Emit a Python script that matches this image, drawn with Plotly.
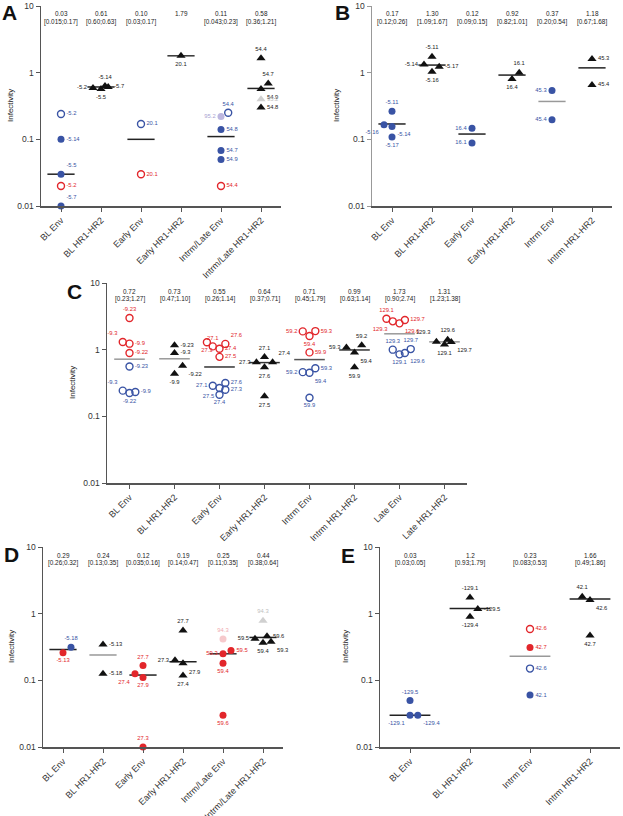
import plotly.graph_objects as go

# ---------------- DATA ----------------
A_categories = ["BL Env", "BL HR1-HR2", "Early Env", "Early HR1-HR2", "Intrm/Late Env", "Intrm/Late HR1-HR2"]
A_median = [0.03, 0.61, 0.10, 1.79, 0.11, 0.58]
A_median_text = ["0.03", "0.61", "0.10", "1.79", "0.11", "0.58"]
A_ci_text = ["[0.015;0.17]", "[0.60;0.63]", "[0.03;0.17]", "", "[0.043;0.23]", "[0.36;1.21]"]
A_cat = [0, 0, 0, 0, 0, 1, 1, 1, 1, 2, 2, 3, 4, 4, 4, 4, 4, 4, 5, 5, 5, 5, 5]
A_value = [0.24, 0.10, 0.03, 0.02, 0.01, 0.59, 0.57, 0.63, 0.61, 0.17, 0.03, 1.79,
           0.25, 0.22, 0.14, 0.068, 0.05, 0.02, 1.64, 0.69, 0.57, 0.40, 0.30]
A_label = ["-5.2", "-5.14", "-5.5", "-5.2", "-5.7", "-5.2", "-5.5", "-5.14", "-5.7", "20.1", "20.1", "20.1",
           "54.4", "95.2", "54.8", "54.7", "54.9", "54.4", "54.4", "54.7", "54.9", "95.2", "54.8"]
A_series = ["bo", "bf", "bf", "ro", "bf", "tri", "tri", "tri", "tri", "bo", "ro", "tri",
            "bo", "pf", "bf", "bf", "bf", "ro", "tri", "tri", "tri", "trig", "tri"]

B_categories = ["BL Env", "BL HR1-HR2", "Early Env", "Early HR1-HR2", "Intrm Env", "Intrm HR1-HR2"]
B_median = [0.17, 1.30, 0.12, 0.92, 0.37, 1.18]
B_median_text = ["0.17", "1.30", "0.12", "0.92", "0.37", "1.18"]
B_ci_text = ["[0.12;0.26]", "[1.09;1.67]", "[0.09;0.15]", "[0.82;1.01]", "[0.20;0.54]", "[0.67;1.68]"]
B_cat = [0, 0, 0, 0, 1, 1, 1, 1, 2, 2, 3, 3, 4, 4, 5, 5]
B_value = [0.264, 0.166, 0.156, 0.108, 1.73, 1.33, 1.23, 1.03, 0.147, 0.088, 0.805, 1.0, 0.54, 0.197, 1.6, 0.655]
B_label = ["-5.11", "-5.16", "-5.14", "-5.17", "-5.11", "-5.14", "-5.17", "-5.16", "16.4", "16.1",
           "16.4", "16.1", "45.3", "45.4", "45.3", "45.4"]
B_series = ["bf", "bf", "bf", "bf", "tri", "tri", "tri", "tri", "bf", "bf", "tri", "tri", "bf", "bf", "tri", "tri"]

C_categories = ["BL Env", "BL HR1-HR2", "Early Env", "Early HR1-HR2", "Intrm Env", "Intrm HR1-HR2",
                "Late Env", "Late HR1-HR2"]
C_median = [0.72, 0.73, 0.55, 0.64, 0.71, 0.99, 1.73, 1.31]
C_median_text = ["0.72", "0.73", "0.55", "0.64", "0.71", "0.99", "1.73", "1.31"]
C_ci_text = ["[0.23;1.27]", "[0.47;1.10]", "[0.26;1.14]", "[0.37;0.71]", "[0.45;1.79]", "[0.63;1.14]",
             "[0.90;2.74]", "[1.23;1.38]"]
C_cat = [0] * 8 + [1] * 4 + [2] * 10 + [3] * 5 + [4] * 8 + [5] * 4 + [6] * 8 + [7] * 4
C_value = [2.99, 1.30, 1.23, 0.89, 0.56, 0.243, 0.224, 0.232,
           1.16, 0.89, 0.575, 0.437,
           1.29, 1.12, 1.03, 1.22, 0.78, 0.288, 0.266, 0.316, 0.25, 0.211,
           0.777, 0.645, 0.645, 0.545, 0.20,
           1.88, 1.60, 1.90, 0.91, 0.46, 0.45, 0.525, 0.19,
           1.08, 1.16, 0.91, 0.545,
           2.91, 2.66, 2.48, 2.79, 1.0, 0.85, 0.89, 1.02,
           1.32, 1.20, 1.41, 1.30]
C_label = ["-9.23", "-9.3", "-9.9", "-9.22", "-9.23", "-9.3", "-9.22", "-9.9",
           "-9.23", "-9.3", "-9.22", "-9.9",
           "27.3", "27.1", "27.4", "27.6", "27.5", "27.1", "27.5", "27.6", "27.3", "27.4",
           "27.1", "27.3", "27.4", "27.6", "27.5",
           "59.2", "59.4", "59.3", "59.9", "59.2", "59.4", "59.3", "59.9",
           "59.3", "59.2", "59.4", "59.9",
           "129.1", "129.3", "129.6", "129.7", "129.3", "129.1", "129.6", "129.7",
           "129.3", "129.1", "129.6", "129.7"]
C_series = ["ro"] * 4 + ["bo"] * 4 + ["tri"] * 4 + ["ro"] * 5 + ["bo"] * 5 + ["tri"] * 5 + \
           ["ro"] * 4 + ["bo"] * 4 + ["tri"] * 4 + ["ro"] * 4 + ["bo"] * 4 + ["tri"] * 4

D_categories = ["BL Env", "BL HR1-HR2", "Early Env", "Early HR1-HR2", "Intrm/Late Env", "Intrm/Late HR1-HR2"]
D_median = [0.29, 0.24, 0.12, 0.19, 0.25, 0.44]
D_median_text = ["0.29", "0.24", "0.12", "0.19", "0.25", "0.44"]
D_ci_text = ["[0.26;0.32]", "[0.13;0.35]", "[0.035;0.16]", "[0.14;0.47]", "[0.11;0.35]", "[0.38;0.64]"]
D_cat = [0, 0, 1, 1, 2, 2, 2, 2, 3, 3, 3, 3, 4, 4, 4, 4, 4, 5, 5, 5, 5, 5]
D_value = [0.314, 0.26, 0.345, 0.125, 0.167, 0.125, 0.11, 0.01, 0.557, 0.20, 0.18, 0.118,
           0.418, 0.28, 0.25, 0.18, 0.03, 0.786, 0.42, 0.46, 0.365, 0.38]
D_label = ["-5.18", "-5.13", "-5.13", "-5.18", "27.7", "27.4", "27.9", "27.3", "27.7", "27.3", "27.9", "27.4",
           "94.3", "59.5", "59.3", "59.4", "59.6", "94.3", "59.5", "59.6", "59.4", "59.3"]
D_series = ["bf", "rf", "tri", "tri", "rf", "rf", "rf", "rf", "tri", "tri", "tri", "tri",
            "pkf", "rf", "rf", "rf", "rf", "trig", "tri", "tri", "tri", "tri"]

E_categories = ["BL Env", "BL HR1-HR2", "Intrm Env", "Intrm HR1-HR2"]
E_median = [0.03, 1.2, 0.23, 1.66]
E_median_text = ["0.03", "1.2", "0.23", "1.66"]
E_ci_text = ["[0.03;0.05]", "[0.93;1.79]", "[0.083;0.53]", "[0.49;1.86]"]
E_cat = [0, 0, 0, 1, 1, 1, 2, 2, 2, 2, 3, 3, 3]
E_value = [0.05, 0.03, 0.03, 1.75, 1.17, 0.90, 0.59, 0.31, 0.15, 0.06, 1.79, 1.60, 0.47]
E_label = ["-129.5", "-129.1", "-129.4", "-129.1", "-129.5", "-129.4", "42.6", "42.7", "42.6", "42.1",
           "42.1", "42.6", "42.7"]
E_series = ["bf", "bf", "bf", "tri", "tri", "tri", "ro", "rf", "bo", "bf", "tri", "tri", "tri"]

Y_TICKS = [0.01, 0.1, 1, 10]
Y_TICK_TEXT = ["0.01", "0.1", "1", "10"]

# ---------------- LAYOUT / STYLE (positions, offsets) ----------------
A_dx = [0, 0, 0, 0, 0, -0.2, 0, 0.1, 0.18, 0, 0, 0, 0.18, 0, 0, 0, 0, 0, 0, 0.18, 0, 0, 0]
A_tp = ["r", "r", "tr", "r", "tr", "l", "b", "t", "r", "r", "r", "b", "t", "l", "r", "r", "r", "r",
        "t", "t", "br", "r", "r"]
A_line = ["#222", "#222", "#222", "#333", "#222", "#222"]

B_dx = [0, -0.2, 0, 0, 0, -0.2, 0.18, 0, 0, 0, 0, 0.18, 0, 0, 0, 0]
B_tp = ["t", "bl", "br", "b", "t", "l", "r", "b", "l", "l", "b", "t", "l", "l", "r", "r"]
B_line = ["#222", "#222", "#222", "#222", "#999", "#222"]

C_dx = [0, -0.15, 0, 0, 0, -0.15, 0, 0.13,
        0, 0, 0.18, 0,
        -0.28, -0.15, 0, 0.13, 0, -0.15, 0, 0.13, 0.13, 0,
        0, -0.18, 0.18, 0, 0,
        -0.15, 0, 0.13, 0, -0.15, 0, 0.13, 0,
        -0.18, 0.16, 0, 0,
        -0.29, -0.15, 0, 0.12, -0.15, 0, 0.12, 0.25,
        -0.18, 0, 0.07, 0.15]
C_tp = ["t", "tl", "r", "r", "r", "tl", "b", "r",
        "r", "r", "br", "b",
        "b", "t", "r", "tr", "r", "l", "bl", "r", "r", "b",
        "t", "l", "tr", "b", "b",
        "l", "b", "r", "r", "l", "br", "r", "b",
        "l", "t", "br", "b",
        "t", "bl", "br", "r", "t", "b", "br", "t",
        "tl", "b", "t", "br"]
C_line = ["#999", "#999", "#333", "#333", "#555", "#333", "#999", "#999"]

D_dx = [0.2, 0, 0, 0, 0, -0.2, 0, 0, 0, -0.2, 0, 0, 0, 0.2, 0, 0, 0, 0, -0.2, 0.1, 0, 0.2]
D_tp = ["t", "b", "r", "r", "t", "bl", "b", "t", "t", "l", "br", "b", "t", "r", "l", "b", "b",
        "t", "l", "r", "b", "br"]
D_line = ["#222", "#999", "#222", "#222", "#333", "#222"]

E_dx = [0, 0, 0.13, 0, 0.13, 0, 0, 0, 0, 0, -0.13, 0, 0]
E_tp = ["t", "bl", "br", "t", "r", "b", "r", "r", "r", "r", "t", "br", "b"]
E_line = ["#222", "#222", "#999", "#222"]

BLUE = "#3953a4"
RED = "#e2262b"
STYLE = {
    "bf": dict(symbol="circle", color=BLUE, size=7, text=BLUE),
    "bo": dict(symbol="circle-open", color=BLUE, size=7, text=BLUE),
    "ro": dict(symbol="circle-open", color=RED, size=7, text=RED),
    "rf": dict(symbol="circle", color=RED, size=7, text=RED),
    "pf": dict(symbol="circle", color="#bdb7df", size=7, text="#a9a3d2"),
    "pkf": dict(symbol="circle", color="#f6c9cc", size=7, text="#f0aab0"),
    "tri": dict(symbol="triangle-up", color="#111111", size=8, text="#222222"),
    "trig": dict(symbol="triangle-up", color="#d0d0d0", size=8, text="#c0c0c0"),
}
TP = {"r": "middle right", "l": "middle left", "t": "top center", "b": "bottom center",
      "tr": "top right", "tl": "top left", "br": "bottom right", "bl": "bottom left"}

W, H = 623, 816
FONT = "Liberation Sans, Arial, sans-serif"
LABEL_SIZE = 5.8
HEADER_SIZE = 6.4
XTICK_SIZE = 9
YTICK_SIZE = 8.5
TITLE_SIZE = 8
LETTER_SIZE = 21

# pixel boxes of each panel's plot area: (x0, x1, ytop, ybottom), letter centre, y-title centre
PANELS = [
    ("A", (41, 281, 6, 206), (10, 13), (11, 106)),
    ("B", (372, 612, 6, 206), (342, 13), (337, 106)),
    ("C", (107, 467, 283, 483), (74, 291), (72, 383)),
    ("D", (43, 283, 547, 747), (11, 554), (11, 647)),
    ("E", (380, 620, 547, 747), (348, 555), (345, 647)),
]
DATA = {
    "A": (A_categories, A_median, A_median_text, A_ci_text, A_cat, A_value, A_label, A_series, A_dx, A_tp, A_line),
    "B": (B_categories, B_median, B_median_text, B_ci_text, B_cat, B_value, B_label, B_series, B_dx, B_tp, B_line),
    "C": (C_categories, C_median, C_median_text, C_ci_text, C_cat, C_value, C_label, C_series, C_dx, C_tp, C_line),
    "D": (D_categories, D_median, D_median_text, D_ci_text, D_cat, D_value, D_label, D_series, D_dx, D_tp, D_line),
    "E": (E_categories, E_median, E_median_text, E_ci_text, E_cat, E_value, E_label, E_series, E_dx, E_tp, E_line),
}

fig = go.Figure()
annotations = []
layout_axes = {}

for k, (name, (x0, x1, yt, yb), letter_pos, title_pos) in enumerate(PANELS):
    cats, med, med_t, ci_t, pc, pv, pl, ps, pdx, ptp, lcol = DATA[name]
    n = len(cats)
    suffix = "" if k == 0 else str(k + 1)
    xa, ya = "x" + suffix, "y" + suffix

    # median lines
    for i in range(n):
        fig.add_trace(go.Scatter(x=[i - 0.34, i + 0.34], y=[med[i], med[i]], mode="lines",
                                 line=dict(color=lcol[i], width=1.5), xaxis=xa, yaxis=ya,
                                 hoverinfo="skip", showlegend=False))
    # points grouped by series
    for s in STYLE:
        idx = [j for j in range(len(pv)) if ps[j] == s]
        if not idx:
            continue
        st = STYLE[s]
        fig.add_trace(go.Scatter(
            x=[pc[j] + pdx[j] for j in idx], y=[pv[j] for j in idx],
            mode="markers+text", text=[pl[j] for j in idx],
            textposition=[TP[ptp[j]] for j in idx],
            textfont=dict(size=LABEL_SIZE, color=st["text"], family=FONT),
            marker=dict(symbol=st["symbol"], color=st["color"], size=st["size"],
                        line=dict(color=st["color"], width=1.4 if "open" in st["symbol"] else 0)),
            xaxis=xa, yaxis=ya, showlegend=False, cliponaxis=False))

    # header annotations
    for i in range(n):
        annotations.append(dict(x=i, y=1, xref=xa, yref=ya, text=med_t[i], showarrow=False,
                                yshift=-8, yanchor="middle",
                                font=dict(size=HEADER_SIZE, color="#222", family=FONT)))
        if ci_t[i]:
            annotations.append(dict(x=i, y=1, xref=xa, yref=ya, text=ci_t[i], showarrow=False,
                                    yshift=-16, yanchor="middle",
                                    font=dict(size=HEADER_SIZE, color="#222", family=FONT)))
    # panel letter
    annotations.append(dict(x=letter_pos[0] / W, y=1 - letter_pos[1] / H, xref="paper", yref="paper",
                            text="<b>" + name + "</b>", showarrow=False, xanchor="center", yanchor="middle",
                            font=dict(size=LETTER_SIZE, color="#111", family=FONT)))
    # y title
    annotations.append(dict(x=title_pos[0] / W, y=1 - title_pos[1] / H, xref="paper", yref="paper",
                            text="Infectivity", textangle=-90, showarrow=False, xanchor="center",
                            yanchor="middle", font=dict(size=TITLE_SIZE, color="#222", family=FONT)))

    axis_color = "#999" if name == "B" else "#555"
    layout_axes["xaxis" + suffix] = dict(
        domain=[x0 / W, x1 / W], anchor=ya, range=[-0.5, n - 0.5], tickvals=list(range(n)),
        ticktext=cats, tickangle=-45, showline=True, linecolor="#555", linewidth=1.5,
        ticks="outside", ticklen=4, tickcolor="#555", showgrid=False, zeroline=False,
        automargin=False, tickfont=dict(size=XTICK_SIZE, color="#333", family=FONT), fixedrange=True)
    layout_axes["yaxis" + suffix] = dict(
        domain=[1 - yb / H, 1 - yt / H], anchor=xa, type="log", range=[-2, 1],
        tickvals=Y_TICKS, ticktext=Y_TICK_TEXT, showline=True, linecolor=axis_color, linewidth=1.5,
        ticks="outside", ticklen=4, tickcolor=axis_color, showgrid=False, zeroline=False,
        automargin=False, tickfont=dict(size=YTICK_SIZE, color="#333", family=FONT), fixedrange=True)

fig.update_layout(width=W, height=H, margin=dict(l=0, r=0, t=0, b=0, autoexpand=False),
                  plot_bgcolor="white", paper_bgcolor="white", showlegend=False,
                  annotations=annotations, font=dict(family=FONT), **layout_axes)

fig.write_html("out.html", config={"displayModeBar": False, "staticPlot": True},
               post_script="document.body.style.margin='0';document.body.style.overflow='hidden';")
